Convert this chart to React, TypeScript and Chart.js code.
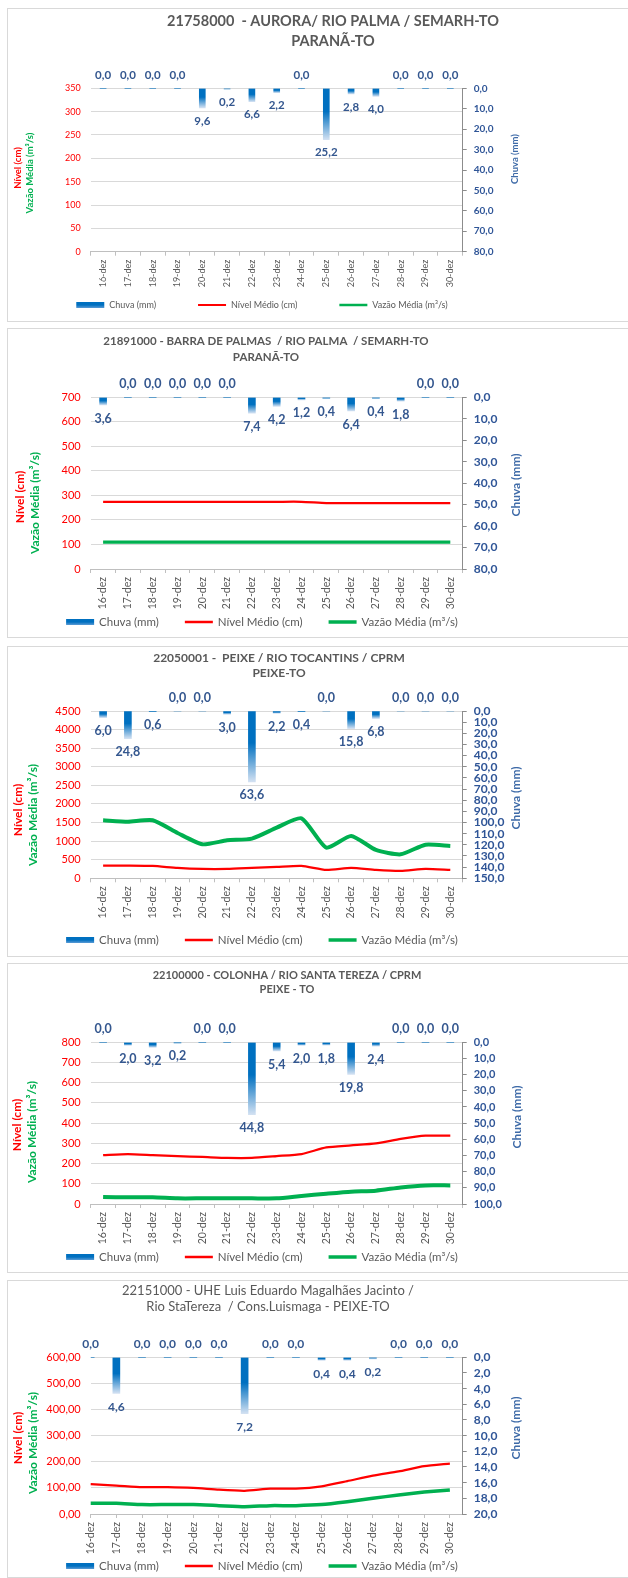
import React, { useEffect, useRef } from 'react';
import { Chart, registerables } from 'chart.js';

Chart.register(...registerables);

const FONT = 'Lato, "Liberation Sans", Arial, sans-serif';
const BLUE_TXT = '#2F5597';
const BLUE_LBL = '#34578F';
const BLUE_TITLE = '#3F6BA8';
const GRAY_TXT = '#595959';
const RED = '#FF0000';
const GREEN = '#00B050';

const categories = ['16-dez', '17-dez', '18-dez', '19-dez', '20-dez', '21-dez', '22-dez', '23-dez', '24-dez', '25-dez', '26-dez', '27-dez', '28-dez', '29-dez', '30-dez'];
const legendLabels = ['Chuva (mm)', 'Nível Médio (cm)', 'Vazão Média (m³/s)'];
const leftTitleNivel = 'Nível (cm)';
const leftTitleVazao = 'Vazão Média (m³/s)';
const rightTitle = 'Chuva (mm)';

// Panel 1
const title1 = ['21758000  - AURORA/ RIO PALMA / SEMARH-TO', 'PARANÃ-TO'];
const chuva1 = [0, 0, 0, 0, 9.6, 0.2, 6.6, 2.2, 0, 25.2, 2.8, 4.0, 0, 0, 0];
const nivel1: number[] = [];
const vazao1: number[] = [];
const leftAxis1 = [0, 350, 50];
const rightAxis1 = [0, 80, 10];

// Panel 2
const title2 = ['21891000 - BARRA DE PALMAS  / RIO PALMA  / SEMARH-TO', 'PARANÃ-TO'];
const chuva2 = [3.6, 0, 0, 0, 0, 0, 7.4, 4.2, 1.2, 0.4, 6.4, 0.4, 1.8, 0, 0];
const nivel2 = [274, 274, 274, 274, 274, 274, 274, 274, 274, 269, 269, 269, 269, 269, 269];
const vazao2 = [110, 110, 110, 110, 110, 110, 110, 110, 110, 110, 110, 110, 110, 110, 110];
const leftAxis2 = [0, 700, 100];
const rightAxis2 = [0, 80, 10];

// Panel 3
const title3 = ['22050001 -  PEIXE / RIO TOCANTINS / CPRM', 'PEIXE-TO'];
const chuva3 = [6.0, 24.8, 0.6, 0, 0, 3.0, 63.6, 2.2, 0.4, 0, 15.8, 6.8, 0, 0, 0];
const nivel3 = [341, 341, 332, 278, 251, 251, 278, 305, 332, 224, 278, 224, 197, 251, 224];
const vazao3 = [1560, 1524, 1560, 1220, 914, 1022, 1067, 1362, 1613, 825, 1138, 762, 645, 905, 870];
const leftAxis3 = [0, 4500, 500];
const rightAxis3 = [0, 150, 10];

// Panel 4
const title4 = ['22100000 - COLONHA / RIO SANTA TEREZA / CPRM', 'PEIXE - TO'];
const chuva4 = [0, 2.0, 3.2, 0.2, 0, 0, 44.8, 5.4, 2.0, 1.8, 19.8, 2.4, 0, 0, 0];
const nivel4 = [242, 247, 242, 237, 233, 228, 228, 237, 247, 280, 290, 300, 322, 338, 338];
const vazao4 = [35, 33, 33, 28, 28, 28, 28, 28, 40, 51, 61, 66, 82, 92, 92];
const leftAxis4 = [0, 800, 100];
const rightAxis4 = [0, 100, 10];

// Panel 5
const title5 = ['22151000 - UHE Luis Eduardo Magalhães Jacinto /', 'Rio StaTereza  / Cons.Luismaga - PEIXE-TO'];
const chuva5 = [0, 4.6, 0, 0, 0, 0, 7.2, 0, 0, 0.4, 0.4, 0.2, 0, 0, 0];
const nivel5 = [114, 109, 103, 103, 100, 93, 89, 97, 97, 106, 126, 147, 163, 183, 193];
const vazao5 = [41, 41, 36, 36, 36, 32, 28, 32, 32, 36, 47, 60, 73, 84, 92];
const leftAxis5 = [0, 600, 100];
const rightAxis5 = [0, 20, 2];

type PanelData = {
  title: string[]; chuva: number[]; nivel: number[]; vazao: number[];
  leftAxis: number[]; rightAxis: number[];
};

type Layout = {
  top: number; height: number; chartTop: number; chartBottom: number;
  legendCx: number; legendY: number; legendFont: number; legendGap: number; legendLine: number[];
  titleFont: number; titleBold: boolean; titleX: number; titleY: number[];
  axisTitleFont: number; nivelPos: number[]; vazaoPos: number[]; rightPos: number[];
  tickFont: number; rightTickFont: number; xTickFont: number; labelFont: number; labelOff: number;
  barW: number; redW: number; greenW: number; onTicks: boolean; leftDecimals: number;
};

const panels: { d: PanelData; L: Layout }[] = [
  {
    d: { title: title1, chuva: chuva1, nivel: nivel1, vazao: vazao1, leftAxis: leftAxis1, rightAxis: rightAxis1 },
    L: {
      top: 8, height: 314, chartTop: 79.3, chartBottom: 242.7,
      legendCx: 254, legendY: 296, legendFont: 9, legendGap: 42, legendLine: [2, 2.5],
      titleFont: 14.5, titleBold: true, titleX: 325, titleY: [12.7, 32.7],
      axisTitleFont: 9.5, nivelPos: [10, 159], vazaoPos: [22, 164], rightPos: [507, 150],
      tickFont: 9, rightTickFont: 10, xTickFont: 9, labelFont: 11.5, labelOff: 13,
      barW: 6, redW: 2, greenW: 3, onTicks: false, leftDecimals: 0,
    },
  },
  {
    d: { title: title2, chuva: chuva2, nivel: nivel2, vazao: vazao2, leftAxis: leftAxis2, rightAxis: rightAxis2 },
    L: {
      top: 328, height: 310, chartTop: 68.3, chartBottom: 240,
      legendCx: 254, legendY: 293, legendFont: 11.5, legendGap: 26, legendLine: [2.5, 3.5],
      titleFont: 11.5, titleBold: true, titleX: 258, titleY: [12, 28],
      axisTitleFont: 12, nivelPos: [12, 168], vazaoPos: [27, 174], rightPos: [508, 156],
      tickFont: 11, rightTickFont: 12, xTickFont: 10.5, labelFont: 12.5, labelOff: 13.5,
      barW: 7, redW: 2.25, greenW: 3.25, onTicks: false, leftDecimals: 0,
    },
  },
  {
    d: { title: title3, chuva: chuva3, nivel: nivel3, vazao: vazao3, leftAxis: leftAxis3, rightAxis: rightAxis3 },
    L: {
      top: 646, height: 311, chartTop: 64, chartBottom: 231.3,
      legendCx: 254, legendY: 293, legendFont: 11.5, legendGap: 26, legendLine: [2.5, 3.5],
      titleFont: 12, titleBold: true, titleX: 271, titleY: [11, 26],
      axisTitleFont: 12, nivelPos: [10, 163], vazaoPos: [25, 168], rightPos: [508, 151],
      tickFont: 11, rightTickFont: 12, xTickFont: 10.5, labelFont: 12.5, labelOff: 13.5,
      barW: 7, redW: 2.25, greenW: 4, onTicks: false, leftDecimals: 0,
    },
  },
  {
    d: { title: title4, chuva: chuva4, nivel: nivel4, vazao: vazao4, leftAxis: leftAxis4, rightAxis: rightAxis4 },
    L: {
      top: 963, height: 310, chartTop: 78.3, chartBottom: 240,
      legendCx: 254, legendY: 293, legendFont: 11.5, legendGap: 26, legendLine: [2.5, 3.5],
      titleFont: 11, titleBold: true, titleX: 279, titleY: [11, 25],
      axisTitleFont: 12, nivelPos: [9, 161], vazaoPos: [24, 168], rightPos: [509, 153],
      tickFont: 11, rightTickFont: 11, xTickFont: 10.5, labelFont: 12.5, labelOff: 13.5,
      barW: 7, redW: 2.25, greenW: 4, onTicks: false, leftDecimals: 0,
    },
  },
  {
    d: { title: title5, chuva: chuva5, nivel: nivel5, vazao: vazao5, leftAxis: leftAxis5, rightAxis: rightAxis5 },
    L: {
      top: 1280, height: 298, chartTop: 76.3, chartBottom: 233,
      legendCx: 254, legendY: 285, legendFont: 11.5, legendGap: 26, legendLine: [2.5, 3.5],
      titleFont: 13, titleBold: false, titleX: 260, titleY: [10, 26],
      axisTitleFont: 12, nivelPos: [10, 157], vazaoPos: [25, 162], rightPos: [508, 147],
      tickFont: 11, rightTickFont: 12, xTickFont: 10.5, labelFont: 12, labelOff: 13.5,
      barW: 7, redW: 2.25, greenW: 3.5, onTicks: true, leftDecimals: 2,
    },
  },
];

const CW = 620;
const LEFT_W = 82.7;
const RIGHT_W = 60;
const CHART_RIGHT = 454.7;
const X_AXIS_H = 50;

const fmt = (v: number, n: number) => v.toFixed(n).replace('.', ',');

function Panel({ d, L }: { d: PanelData; L: Layout }) {
  const ref = useRef<HTMLCanvasElement>(null);
  useEffect(() => {
    const canvas = ref.current;
    if (!canvas) return;
    const hc = L.height - 2;
    const padBottom = hc - L.chartBottom - X_AXIS_H;

    const gradient = (c: any) => {
      const chart = c.chart;
      if (!chart.chartArea || c.type !== 'data') return '#0070C0';
      const s = chart.scales.y1;
      const v = c.raw as number;
      const y0 = s.getPixelForValue(0);
      const y1 = s.getPixelForValue(v);
      if (Math.abs(y1 - y0) < 1) return '#0070C0';
      const g = chart.ctx.createLinearGradient(0, y0, 0, y1);
      g.addColorStop(0, '#0070C0');
      g.addColorStop(0.45, '#0070C0');
      g.addColorStop(1, '#D3E1F2');
      return g;
    };

    const decor = {
      id: 'decor',
      afterDatasetsDraw(chart: any) {
        const ctx = chart.ctx;
        const area = chart.chartArea;
        const meta = chart.getDatasetMeta(0);
        ctx.save();
        ctx.font = `bold ${L.labelFont}px ${FONT}`;
        ctx.fillStyle = BLUE_LBL;
        ctx.textAlign = 'center';
        ctx.textBaseline = 'middle';
        meta.data.forEach((el: any, i: number) => {
          const v = d.chuva[i];
          if (v == null) return;
          const y = v === 0 ? area.top - L.labelOff : Math.max(el.y, el.base) + L.labelOff;
          ctx.fillText(fmt(v, 1), el.x, y);
        });
        ctx.restore();
      },
      afterDraw(chart: any) {
        const ctx = chart.ctx;
        ctx.save();
        ctx.textAlign = 'center';
        ctx.textBaseline = 'middle';
        ctx.fillStyle = GRAY_TXT;
        ctx.font = `${L.titleBold ? 'bold ' : ''}${L.titleFont}px ${FONT}`;
        d.title.forEach((t, i) => ctx.fillText(t, L.titleX, L.titleY[i]));
        const rot = (text: string, p: number[], color: string) => {
          ctx.save();
          ctx.translate(p[0], p[1]);
          ctx.rotate(-Math.PI / 2);
          ctx.fillStyle = color;
          ctx.fillText(text, 0, 0);
          ctx.restore();
        };
        ctx.font = `bold ${L.axisTitleFont}px ${FONT}`;
        rot(leftTitleNivel, L.nivelPos, RED);
        rot(leftTitleVazao, L.vazaoPos, GREEN);
        rot(rightTitle, L.rightPos, BLUE_TITLE);

        // legend
        ctx.font = `${L.legendFont}px ${FONT}`;
        ctx.textAlign = 'left';
        const sw = L.legendFont < 10 ? 28 : 28;
        const tg = 5;
        const widths = legendLabels.map((t) => sw + tg + ctx.measureText(t).width);
        const total = widths.reduce((a, b) => a + b, 0) + L.legendGap * 2;
        let x = L.legendCx - total / 2;
        const y = L.legendY;
        legendLabels.forEach((t, i) => {
          if (i === 0) {
            const g = ctx.createLinearGradient(0, y - 3, 0, y + 3);
            g.addColorStop(0, '#0070C0');
            g.addColorStop(0.5, '#0070C0');
            g.addColorStop(1, '#5B9BD5');
            ctx.fillStyle = g;
            ctx.fillRect(x, y - 3, sw, 6);
          } else {
            ctx.strokeStyle = i === 1 ? RED : GREEN;
            ctx.lineWidth = L.legendLine[i - 1];
            ctx.beginPath();
            ctx.moveTo(x, y);
            ctx.lineTo(x + sw, y);
            ctx.stroke();
          }
          ctx.fillStyle = GRAY_TXT;
          ctx.fillText(t, x + sw + tg, y + 0.5);
          x += widths[i] + L.legendGap;
        });
        ctx.restore();
      },
    };

    const chart = new Chart(canvas, {
      type: 'bar',
      data: {
        labels: categories,
        datasets: [
          {
            type: 'bar', label: legendLabels[0], data: d.chuva, yAxisID: 'y1',
            barThickness: L.barW, backgroundColor: gradient as any, borderWidth: 0, order: 3,
          },
          {
            type: 'line', label: legendLabels[1], data: d.nivel, yAxisID: 'y',
            borderColor: RED, backgroundColor: RED, borderWidth: L.redW, pointRadius: 0,
            tension: 0.2, fill: false, order: 2,
          } as any,
          {
            type: 'line', label: legendLabels[2], data: d.vazao, yAxisID: 'y',
            borderColor: GREEN, backgroundColor: GREEN, borderWidth: L.greenW, pointRadius: 0,
            tension: 0.2, fill: false, order: 1,
          } as any,
        ],
      },
      options: {
        responsive: true,
        maintainAspectRatio: false,
        animation: false,
        events: [],
        layout: { padding: { top: L.chartTop, left: 0, right: CW - CHART_RIGHT - RIGHT_W, bottom: padBottom } },
        plugins: {
          title: { display: false },
          tooltip: { enabled: false },
          legend: { display: false },
        },
        scales: {
          x: {
            type: 'category',
            offset: !L.onTicks,
            ticks: {
              minRotation: 90, maxRotation: 90, autoSkip: false, padding: 4,
              color: GRAY_TXT, font: { size: L.xTickFont, family: FONT },
            },
            grid: { drawOnChartArea: false, drawTicks: true, tickLength: 4, color: '#BFBFBF', offset: !L.onTicks },
            border: { display: true, color: '#BFBFBF' },
            afterBuildTicks: (s: any) => { if (L.onTicks) s._valueRange += 0.5; },
            afterFit: (s: any) => { s.height = X_AXIS_H; },
          },
          y: {
            position: 'left',
            min: d.leftAxis[0], max: d.leftAxis[1],
            ticks: {
              stepSize: d.leftAxis[2], padding: 10, color: RED,
              font: { size: L.tickFont, family: FONT },
              callback: (v: any) => fmt(Number(v), L.leftDecimals),
            },
            grid: { color: '#D9D9D9', drawTicks: false, lineWidth: 1 },
            border: { display: false },
            afterFit: (s: any) => { s.width = LEFT_W; },
          },
          y1: {
            position: 'right',
            reverse: true,
            min: d.rightAxis[0], max: d.rightAxis[1],
            ticks: {
              stepSize: d.rightAxis[2], autoSkip: false, padding: 7, color: BLUE_TXT,
              font: { size: L.rightTickFont, family: FONT, weight: 'bold' },
              callback: (v: any) => fmt(Number(v), 1),
            },
            grid: { drawOnChartArea: false, drawTicks: true, tickLength: 4, color: '#8C8C8C' },
            border: { display: true, color: '#8C8C8C' },
            afterFit: (s: any) => { s.width = RIGHT_W; },
          },
        },
      } as any,
      plugins: [decor as any],
    });
    return () => chart.destroy();
  }, []);

  return (
    <div
      style={{
        position: 'absolute', left: 7, top: L.top, width: 700, height: L.height,
        border: '1px solid #D9D9D9', boxSizing: 'border-box', background: '#fff',
      }}
    >
      <div style={{ position: 'relative', width: CW, height: L.height - 2 }}>
        <canvas ref={ref} />
      </div>
    </div>
  );
}

export default function App() {
  return (
    <div
      style={{
        position: 'fixed', left: 0, top: 0, width: 628, height: 1578,
        overflow: 'hidden', background: '#fff',
      }}
    >
      {panels.map((p, i) => (
        <Panel key={i} d={p.d} L={p.L} />
      ))}
    </div>
  );
}
